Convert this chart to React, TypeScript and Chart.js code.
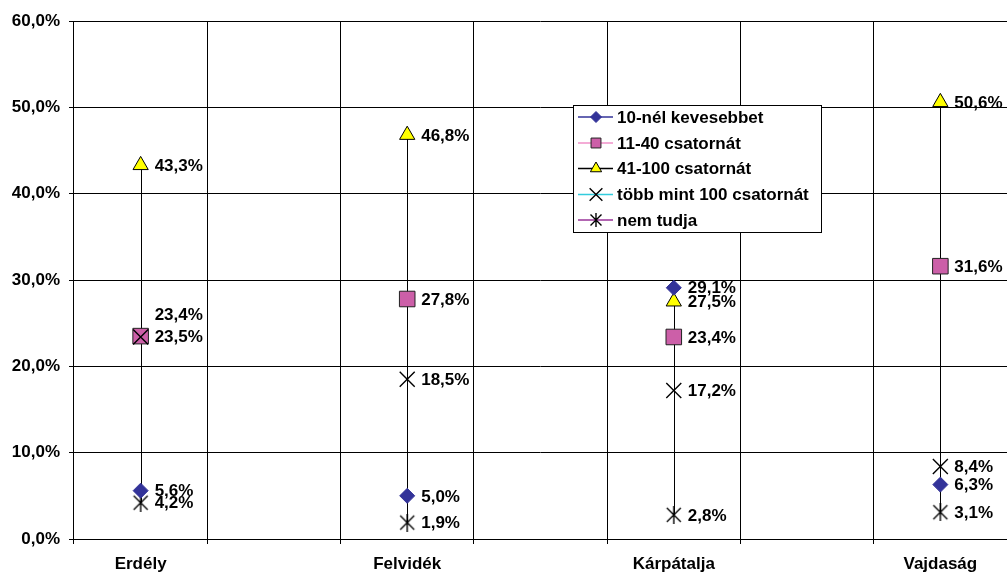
import React, { useEffect, useRef } from 'react';
import { Chart, registerables } from 'chart.js';
import { drawPoint } from 'chart.js/helpers';

Chart.register(...registerables);

// ---- data ----
const categories = ['Erdély', '', 'Felvidék', '', 'Kárpátalja', '', 'Vajdaság'];
const seriesNames = [
  '10-nél kevesebbet',
  '11-40 csatornát',
  '41-100 csatornát',
  'több mint 100 csatornát',
  'nem tudja',
];
const under10 = [5.6, null, 5.0, null, 29.1, null, 6.3];
const from11to40 = [23.5, null, 27.8, null, 23.4, null, 31.6];
const from41to100 = [43.3, null, 46.8, null, 27.5, null, 50.6];
const over100 = [23.4, null, 18.5, null, 17.2, null, 8.4];
const dontKnow = [4.2, null, 1.9, null, 2.8, null, 3.1];
const yMin = 0;
const yMax = 60;
const yStep = 10;

// ---- styles ----
const FONT = '"Liberation Sans", Arial, sans-serif';
const FS = 17;
const fmt = (v: number) => v.toFixed(1).replace('.', ',') + '%';
const labelShiftY: Record<string, number> = { '3-0': -23 };

function makeStar(size: number, half: number, lw: number, color: string) {
  const c = document.createElement('canvas');
  c.width = size;
  c.height = size;
  const g = c.getContext('2d')!;
  g.strokeStyle = color;
  g.lineWidth = lw;
  const h = size / 2;
  g.beginPath();
  g.moveTo(h - half, h - half);
  g.lineTo(h + half, h + half);
  g.moveTo(h + half, h - half);
  g.lineTo(h - half, h + half);
  g.moveTo(h, 0);
  g.lineTo(h, size);
  g.stroke();
  return c;
}

export default function App() {
  const ref = useRef<HTMLCanvasElement | null>(null);

  useEffect(() => {
    const canvas = ref.current!;
    const starBig = makeStar(18, 7, 1.4, '#000');
    const starSmall = makeStar(14, 5.5, 1.4, '#000');

    const series = [under10, from11to40, from41to100, over100, dontKnow];
    const styles = [
      { pointStyle: 'rectRot', radius: 7.5, fill: '#333399', border: '#333399', bw: 1, legendRadius: 5.5, line: '#333399' },
      { pointStyle: 'rect', radius: 11, fill: '#CC5FA8', border: '#222222', bw: 1, legendRadius: 7, line: '#F090C8' },
      { pointStyle: 'triangle', radius: 8.8, fill: '#FFFF00', border: '#000000', bw: 1, legendRadius: 6.5, line: '#000000' },
      { pointStyle: 'crossRot', radius: 10.6, fill: '#000000', border: '#000000', bw: 1.4, legendRadius: 9, line: '#33CCDD' },
      { pointStyle: starBig as any, radius: 9, fill: '#000000', border: '#000000', bw: 1.4, legendRadius: 7, line: '#993399' },
    ];
    const orders = [1, 2, 3, 0, 1];

    const hiLoPlugin = {
      id: 'hilo',
      beforeDatasetsDraw(chart: any) {
        const { ctx, scales } = chart;
        const xs = scales.x;
        const ys = scales.y;
        ctx.save();
        ctx.strokeStyle = '#000';
        ctx.lineWidth = 1;
        categories.forEach((_, i) => {
          const vals = series.map((s) => s[i]).filter((v) => v !== null) as number[];
          if (!vals.length) return;
          const x = Math.round(xs.getPixelForValue(i)) + 0.5;
          ctx.beginPath();
          ctx.moveTo(x, ys.getPixelForValue(Math.max(...vals)));
          ctx.lineTo(x, ys.getPixelForValue(Math.min(...vals)));
          ctx.stroke();
        });
        ctx.restore();
      },
    };

    const labelPlugin = {
      id: 'vlabels',
      afterDatasetsDraw(chart: any) {
        const { ctx } = chart;
        ctx.save();
        ctx.font = `bold ${FS}px ${FONT}`;
        ctx.fillStyle = '#000';
        ctx.textAlign = 'left';
        ctx.textBaseline = 'middle';
        series.forEach((s, di) => {
          const meta = chart.getDatasetMeta(di);
          s.forEach((v, i) => {
            if (v === null) return;
            const el = meta.data[i];
            const dy = labelShiftY[`${di}-${i}`] || 0;
            ctx.fillText(fmt(v), el.x + 14, el.y + dy + 1);
          });
        });
        ctx.restore();
      },
    };

    const legendPlugin = {
      id: 'boxlegend',
      afterDraw(chart: any) {
        const { ctx } = chart;
        const left = 573.5;
        const top = 105.5;
        const w = 248;
        const h = 127;
        ctx.save();
        ctx.fillStyle = '#fff';
        ctx.fillRect(left, top, w, h);
        ctx.strokeStyle = '#000';
        ctx.lineWidth = 1;
        ctx.strokeRect(left, top, w, h);
        const rows = [117, 143, 168.5, 194.5, 220];
        seriesNames.forEach((name, i) => {
          const st = styles[i];
          const y = rows[i];
          ctx.strokeStyle = st.line;
          ctx.lineWidth = 1.5;
          ctx.beginPath();
          ctx.moveTo(578, y);
          ctx.lineTo(613, y);
          ctx.stroke();
          ctx.fillStyle = st.fill;
          ctx.strokeStyle = st.border;
          ctx.lineWidth = st.bw;
          const ps = i === 4 ? (starSmall as any) : st.pointStyle;
          drawPoint(ctx, { pointStyle: ps, radius: st.legendRadius, rotation: 0, borderWidth: st.bw } as any, 596, y);
          ctx.fillStyle = '#000';
          ctx.font = `bold ${FS}px ${FONT}`;
          ctx.textAlign = 'left';
          ctx.textBaseline = 'middle';
          ctx.fillText(name, 617, y + 1);
        });
        ctx.restore();
      },
    };

    const chart = new Chart(canvas, {
      type: 'line',
      data: {
        labels: categories,
        datasets: series.map((s, i) => ({
          label: seriesNames[i],
          data: s,
          showLine: false,
          order: orders[i],
          pointStyle: styles[i].pointStyle,
          pointRadius: styles[i].radius,
          pointHoverRadius: styles[i].radius,
          pointBackgroundColor: styles[i].fill,
          pointBorderColor: styles[i].border,
          pointBorderWidth: styles[i].bw,
          borderColor: styles[i].line,
          backgroundColor: styles[i].fill,
          clip: false,
        })) as any,
      },
      options: {
        responsive: false,
        animation: false,
        devicePixelRatio: 1,
        layout: { autoPadding: false, padding: { top: 21, left: 0, right: 0, bottom: 0 } },
        plugins: {
          legend: { display: false },
          tooltip: { enabled: false },
        },
        scales: {
          x: {
            type: 'category',
            offset: true,
            grid: { offset: true, color: '#000', lineWidth: 1, tickLength: 5, drawTicks: true },
            border: { color: '#000', width: 1 },
            ticks: {
              autoSkip: false,
              maxRotation: 0,
              minRotation: 0,
              padding: 10,
              color: '#000',
              font: { family: FONT, size: FS, weight: 'bold' },
            },
            afterFit(scale: any) {
              scale.height = 34;
            },
          },
          y: {
            min: yMin,
            max: yMax,
            grid: { color: '#000', lineWidth: 1, tickLength: 5, drawTicks: true },
            border: { display: false },
            ticks: {
              stepSize: yStep,
              padding: 9,
              color: '#000',
              font: { family: FONT, size: FS, weight: 'bold' },
              callback: (v: any) => fmt(Number(v)),
            },
            afterFit(scale: any) {
              scale.width = 74;
            },
          },
        },
      } as any,
      plugins: [hiLoPlugin, labelPlugin, legendPlugin],
    });

    return () => chart.destroy();
  }, []);

  return (
    <div style={{ position: 'absolute', left: 0, top: 0, width: 1007, height: 573, background: '#fff' }}>
      <canvas ref={ref} width={1007} height={573} style={{ display: 'block' }} />
    </div>
  );
}
